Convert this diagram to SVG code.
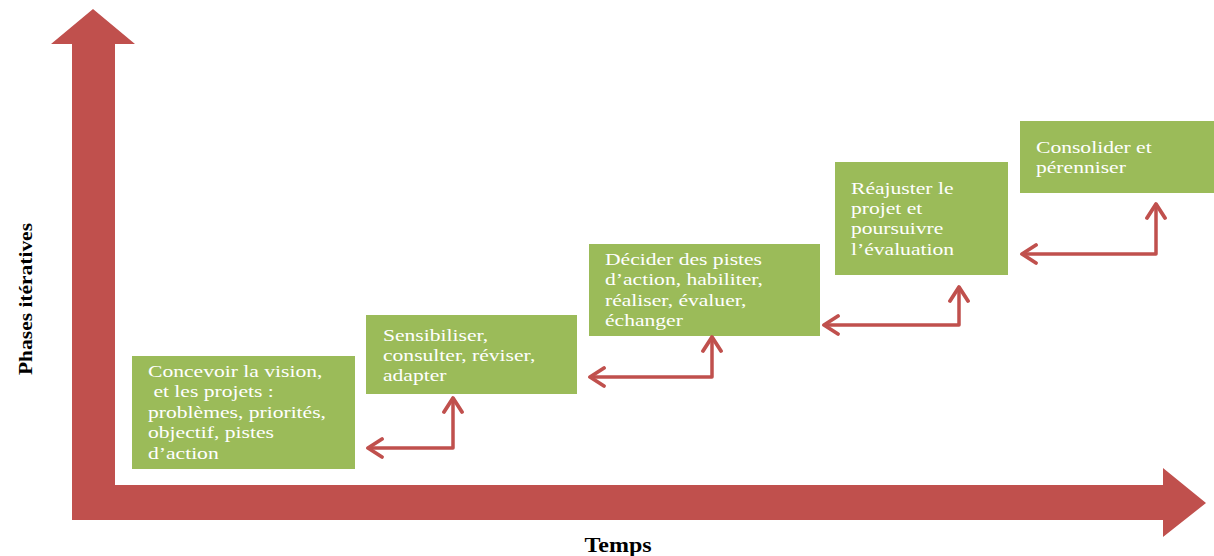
<svg xmlns="http://www.w3.org/2000/svg" width="1214" height="556" viewBox="0 0 1214 556">
<style>
.axis{fill:#C0504D;}
.box{fill:#9BBB59;}
.t{font-family:"Liberation Serif","Times New Roman",serif;font-size:17px;fill:#FFFFFF;}
.lbl{font-family:"Liberation Serif","Times New Roman",serif;font-weight:bold;fill:#000000;}
.conn{fill:none;stroke:#C0504D;stroke-width:3.5;stroke-linejoin:round;marker-start:url(#chev);marker-end:url(#chev);}
</style>
<defs>
<marker id="chev" markerUnits="userSpaceOnUse" viewBox="0 0 22 22" markerWidth="22" markerHeight="22" refX="17" refY="11" orient="auto-start-reverse">
<path d="M3,2 L17,11 L3,20" fill="none" stroke="#C0504D" stroke-width="3.8" stroke-linejoin="round" stroke-linecap="round"/>
</marker>
</defs>
<rect width="1214" height="556" fill="#FFFFFF"/>
<g id="axes">
<path class="axis" d="M72,520 L72,44 L51,44 L93,9 L135,44 L115,44 L115,485 L1163,485 L1163,468 L1206,503 L1163,537 L1163,520 Z"/>
</g>
<g id="axis-labels">
<text class="lbl" font-size="19" transform="translate(32,299) rotate(-90) scale(1.13,1)" text-anchor="middle">Phases itératives</text>
<text class="lbl" font-size="20" transform="translate(618,552) scale(1.2,1)" text-anchor="middle">Temps</text>
</g>
<g id="node1">
<rect class="box" x="132" y="356" width="223" height="113"/>
<text class="t" transform="translate(148,0) scale(1.27,1)"><tspan x="0" y="377">Concevoir la vision,</tspan><tspan x="0" y="397.5" xml:space="preserve"> et les projets :</tspan><tspan x="0" y="418">problèmes, priorités,</tspan><tspan x="0" y="438.5">objectif, pistes</tspan><tspan x="0" y="459">d’action</tspan></text>
</g>
<g id="node2">
<rect class="box" x="366" y="315" width="211" height="79"/>
<text class="t" transform="translate(383,0) scale(1.27,1)"><tspan x="0" y="341.5">Sensibiliser,</tspan><tspan x="0" y="361.5">consulter, réviser,</tspan><tspan x="0" y="381.5">adapter</tspan></text>
</g>
<g id="node3">
<rect class="box" x="589" y="244" width="231" height="92"/>
<text class="t" transform="translate(605,0) scale(1.27,1)"><tspan x="0" y="265">Décider des pistes</tspan><tspan x="0" y="285.5">d’action, habiliter,</tspan><tspan x="0" y="306">réaliser, évaluer,</tspan><tspan x="0" y="326.5">échanger</tspan></text>
</g>
<g id="node4">
<rect class="box" x="835" y="162" width="173" height="113"/>
<text class="t" transform="translate(851,0) scale(1.27,1)"><tspan x="0" y="194">Réajuster le</tspan><tspan x="0" y="214">projet et</tspan><tspan x="0" y="234">poursuivre</tspan><tspan x="0" y="255">l’évaluation</tspan></text>
</g>
<g id="node5">
<rect class="box" x="1020" y="121" width="194" height="72"/>
<text class="t" transform="translate(1036,0) scale(1.27,1)"><tspan x="0" y="153">Consolider et</tspan><tspan x="0" y="173">pérenniser</tspan></text>
</g>
<g id="connectors">
<path class="conn" d="M368,448 H453 V398"/>
<path class="conn" d="M590,377 H712 V337"/>
<path class="conn" d="M824,325 H959 V287"/>
<path class="conn" d="M1022,254 H1156 V204"/>
</g>
</svg>
